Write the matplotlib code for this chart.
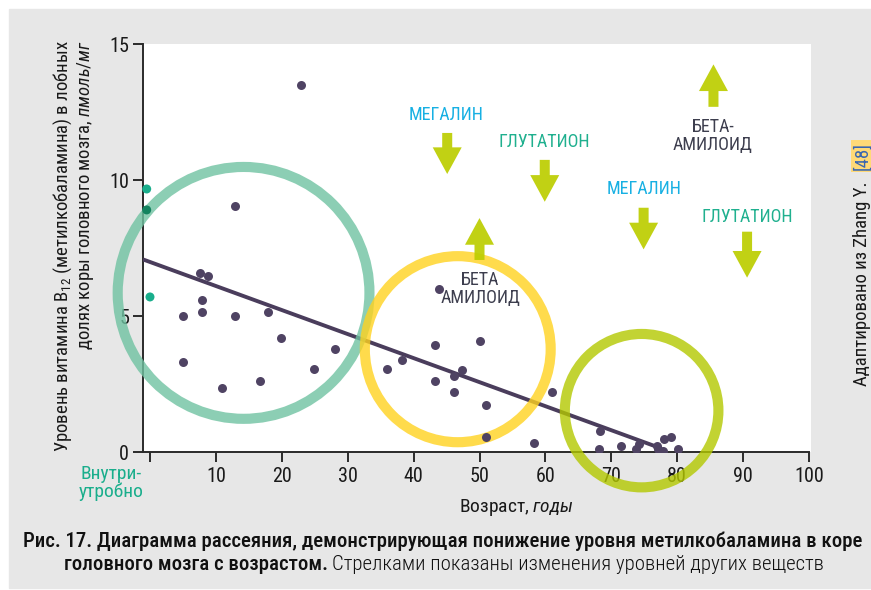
import numpy as np
import matplotlib
matplotlib.use("Agg")
import matplotlib.pyplot as plt
from matplotlib import font_manager
from matplotlib.patches import Ellipse, Rectangle, FancyArrow

# pick a narrow family if there is one
names = {f.name for f in font_manager.fontManager.ttflist}
FONT = "Roboto"
for cand in ["Roboto Condensed", "Liberation Sans Narrow", "Roboto"]:
    if cand in names:
        FONT = cand
        break
plt.rcParams["font.family"] = [FONT, "DejaVu Sans"]
plt.rcParams["mathtext.fontset"] = "custom"
plt.rcParams["mathtext.rm"] = FONT
plt.rcParams["mathtext.it"] = FONT + ":italic"

# data
ages = [22.9, 12.9, 7.6, 8.8, 7.9, 5.0, 7.9, 12.9, 17.9, 19.9, 28.1, 5.0, 24.9,
        16.7, 10.9, 36.0, 38.2, 43.2, 43.2, 43.9, 50.1, 47.3, 46.2, 46.2, 51.0,
        51.0, 61.0, 58.2, 68.3, 68.2, 71.4, 73.8, 74.2, 77.0, 77.1, 77.9, 78.0,
        79.1, 80.1]
b12 = [13.5, 9.04, 6.58, 6.47, 5.6, 5.0, 5.15, 5.0, 5.15, 4.2, 3.8, 3.3, 3.05,
       2.6, 2.35, 3.06, 3.38, 3.93, 2.62, 5.98, 4.09, 3.03, 2.78, 2.21, 1.73,
       0.55, 2.21, 0.34, 0.76, 0.11, 0.21, 0.12, 0.29, 0.22, 0.10, 0.04, 0.47,
       0.55, 0.11]
fetal_x = [-0.5, -0.5, 0.0]
fetal_y = [9.67, 8.9, 5.7]
trend_x = [-1.06, 76.8]
trend_y = [7.08, 0.2]

# groups: centre x, centre y, half width (years), half height (pmol/mg)
group_cx = [14.2, 46.7, 74.6]
group_cy = [5.85, 3.78, 1.52]
group_rx = [19.1, 14.1, 11.65]
group_ry = [4.63, 3.42, 2.82]
group_colors = ["#6fc2a1", "#ffd21f", "#b3c800"]

# substance labels and arrows
label_text = ["МЕГАЛИН", "ГЛУТАТИОН", "БЕТА\nАМИЛОИД", "БЕТА-\nАМИЛОИД", "МЕГАЛИН", "ГЛУТАТИОН"]
label_x = [45.0, 59.9, 50.1, 85.4, 74.9, 90.6]
label_y = [12.39, 11.4, 5.99, 11.62, 9.67, 8.64]
label_colors = ["#17b0e3", "#20b08f", "#3d3e4e", "#3d3e4e", "#17b0e3", "#20b08f"]
arrow_x = [45.1, 59.9, 50.0, 85.5, 74.9, 90.6]
arrow_from = [11.73, 10.74, 7.06, 12.69, 8.98, 8.1]
arrow_to = [10.22, 9.2, 8.6, 14.25, 7.45, 6.41]

xticks = [0, 10, 20, 30, 40, 50, 60, 70, 80, 90, 100]
yticks = [0, 5, 10, 15]

W, H = 871, 590
fig = plt.figure(figsize=(W / 100, H / 100), dpi=100)
fig.patch.set_facecolor("white")
fig.patches.append(Rectangle((9 / W, 2 / H), 1 - 9 / W, (588 - 9) / H,
                             transform=fig.transFigure, color="#e7e7e7", zorder=-5))

ax = fig.add_axes([143 / W, 1 - 452 / H, (811 - 143) / W, (452 - 44) / H])
ax.set_facecolor("white")
ax.set_xlim(-1.06, 100.3)
ax.set_ylim(0, 15)
for s in ["top", "right"]:
    ax.spines[s].set_visible(False)
for s in ["left", "bottom"]:
    ax.spines[s].set_color("#2a2a2a")
    ax.spines[s].set_linewidth(1.4)
ax.spines["bottom"].set_bounds(-1.06, 100)

ax.set_xticks(xticks)
ax.set_xticklabels([""] + [str(t) for t in xticks[1:]])
ax.set_yticks(yticks)
ax.tick_params(axis="both", colors="#2a2a2a", length=7, width=1.4, labelsize=14.5,
               labelcolor="#1a1a1a")
ax.tick_params(axis="y", pad=3)
ax.tick_params(axis="x", pad=4)

ax.plot(trend_x, trend_y, color="#4a3d5c", lw=2.8, zorder=3, solid_capstyle="butt")
ax.scatter(ages, b12, s=42, color="#4f4363", zorder=5.5, linewidths=0)
# the second fetal dot sits under the green ring, so it reads darker
ax.scatter(fetal_x, fetal_y, s=42, color=["#1aae8c", "#13835f", "#1aae8c"],
           zorder=5.5, linewidths=0, clip_on=False)

for cx, cy, rx, ry, c in zip(group_cx, group_cy, group_rx, group_ry, group_colors):
    ax.add_patch(Ellipse((cx, cy), 2 * rx, 2 * ry, fill=False, edgecolor=c, lw=7.3,
                         alpha=0.8, zorder=5, clip_on=False))

for x, y0, y1 in zip(arrow_x, arrow_from, arrow_to):
    ax.add_patch(FancyArrow(x, y0, 0, y1 - y0, width=1.52, head_width=4.4,
                            head_length=0.98, length_includes_head=True,
                            color="#bccd00", alpha=0.92, lw=0, zorder=6))

for t, x, y, c in zip(label_text, label_x, label_y, label_colors):
    ax.text(x, y, t, color=c, fontsize=13, ha="center", va="center",
            linespacing=1.0, zorder=7)

# in-utero tick label
fig.text(111 / W, 1 - 483 / H, "Внутри-\nутробно", color="#1aae8c", fontsize=14,
         ha="center", va="center", linespacing=0.95)

fig.text(516 / W, 1 - 508 / H, "Возраст, $\\mathit{годы}$", fontsize=14,
         ha="center", va="center", color="#1a1a1a")

fig.text(63 / W, 1 - 40 / H, "Уровень витамина B$_{12}$ (метилкобаламина) в лобных",
         rotation=90, fontsize=13.5, ha="center", va="top", color="#1a1a1a")
fig.text(86 / W, 1 - 40 / H, "долях коры головного мозга, $\\mathit{пмоль/мг}$",
         rotation=90, fontsize=13.5, ha="center", va="top", color="#1a1a1a")

# source note on the right
fig.text(862 / W, 1 - 142 / H, "[48]", rotation=90, fontsize=13.5, ha="center", va="top",
         color="#3a66b0", bbox=dict(boxstyle="square,pad=0.1", fc="#ffd977", ec="none"))
fig.text(862 / W, 1 - 182 / H, "Адаптировано из Zhang Y.", rotation=90, fontsize=13.5,
         ha="center", va="top", color="#1a1a1a")

# caption
fig.text(443 / W, 1 - 541 / H,
         "Рис. 17. Диаграмма рассеяния, демонстрирующая понижение уровня метилкобаламина в коре",
         fontsize=15, fontweight="medium", ha="center", va="center", color="#111111")
r = fig.canvas.get_renderer()
p1 = fig.text(0, 1 - 565 / H, "головного мозга с возрастом. ", fontsize=15,
              fontweight="medium", ha="left", va="center", color="#111111")
p2 = fig.text(0, 1 - 565 / H, "Стрелками показаны изменения уровней других веществ",
              fontsize=15, fontweight="light", ha="left", va="center", color="#111111")
w1 = p1.get_window_extent(r).width
w2 = p2.get_window_extent(r).width
x0 = 444 - (w1 + w2) / 2
p1.set_x(x0 / W)
p2.set_x((x0 + w1) / W)

fig.savefig("out.png", dpi=100, facecolor=fig.get_facecolor())
